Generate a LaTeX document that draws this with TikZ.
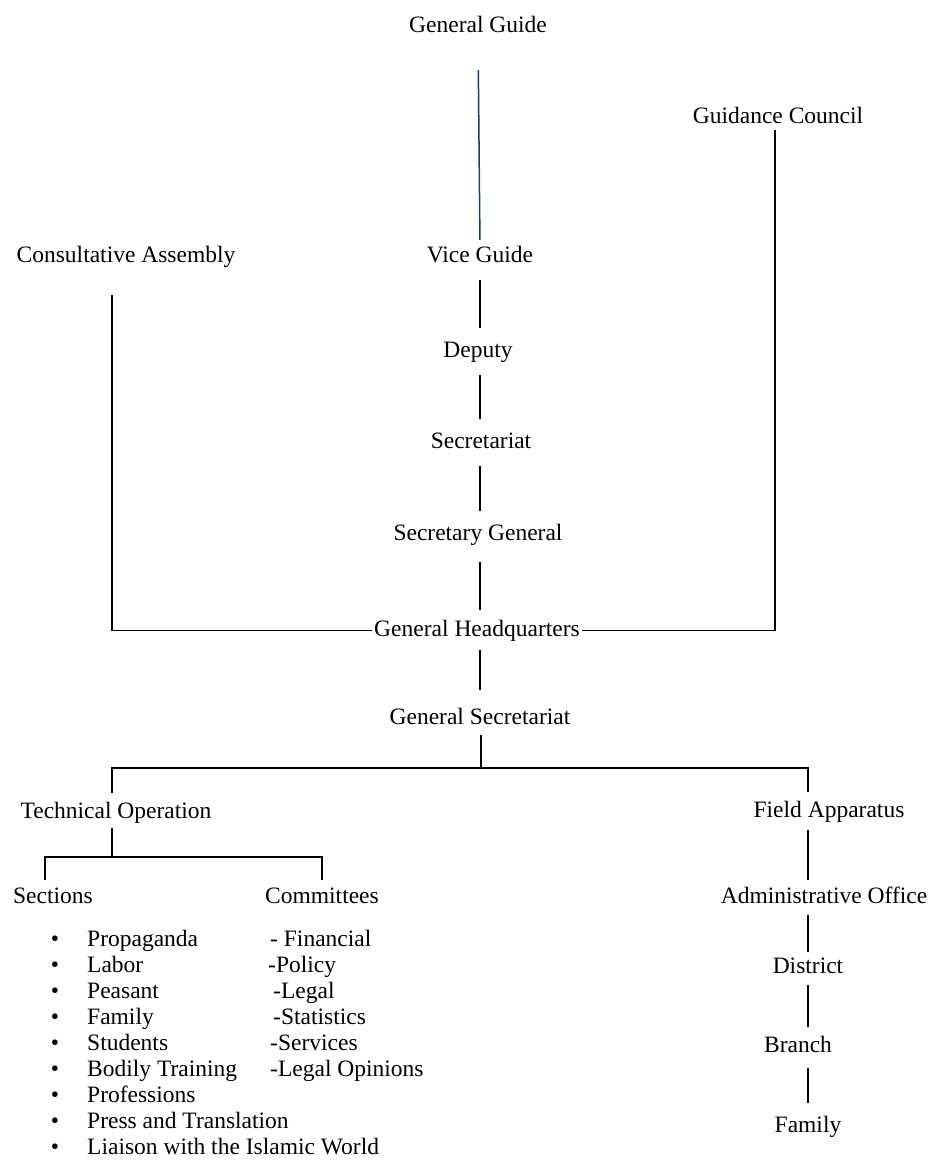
\documentclass[tikz,border=0pt]{standalone}
\usepackage{fontspec}
\setmainfont{Liberation Serif}
\definecolor{darkteal}{RGB}{25,60,95}

\begin{document}
\begin{tikzpicture}[x=1pt,y=-1pt,
    lbl/.style={inner sep=0pt,anchor=base,text height=16pt,text depth=5pt,
      font=\fontsize{23.5}{26}\selectfont},
    item/.style={lbl,anchor=base west},
    link/.style={line width=1.5pt,shorten <=13pt,shorten >=13pt}]
  \useasboundingbox (0,0) rectangle (930,1160);

  % top of the chart
  \node[lbl] (gg)   at (478,32)  {General Guide};
  \node[lbl] (gc)   at (778,123) {Guidance Council};
  \node[lbl] (ca)   at (126,262) {Consultative Assembly};
  \node[lbl] (vg)   at (480,262) {Vice Guide};
  \node[lbl] (dep)  at (478,357) {Deputy};
  \node[lbl] (sect) at (481,448) {Secretariat};
  \node[lbl] (sg)   at (478,540) {Secretary General};
  \node[lbl] (ghq)  at (477,636) {General Headquarters};
  \node[lbl] (gs)   at (480,724) {General Secretariat};

  % two branches
  \node[lbl] (tech) at (116,818) {Technical Operation};
  \node[lbl] (fa)   at (829,817) {Field Apparatus};
  \node[lbl] (sec)  at (53,903)  {Sections};
  \node[lbl] (com)  at (322,903) {Committees};
  \node[lbl] (adm)  at (824,903) {Administrative Office};
  \node[lbl] (dist) at (808,973) {District};
  \node[lbl] (br)   at (798,1052) {Branch};
  \node[lbl] (fam)  at (808,1132) {Family};

  \foreach \txt [count=\i] in {Propaganda,Labor,Peasant,Family,Students,
      Bodily Training,Professions,Press and Translation,
      Liaison with the Islamic World} {
    \node[lbl] (dot\i) at (55,{919.9+26.1*\i}) {\textbullet};
    \node[item] (sec\i) at (87,{919.9+26.1*\i}) {\txt};
  }
  \foreach \x/\txt [count=\i] in {270/- Financial,268/-Policy,273/-Legal,
      273/-Statistics,270/-Services,270/-Legal Opinions} {
    \node[item] (com\i) at (\x,{919.9+26.1*\i}) {\txt};
  }

  % connectors
  \draw[link,darkteal,shorten <=33pt,shorten >=6pt] (gg.south) -- (vg.north);
  \draw[link] (vg.south -| gs.south) -- (dep.north -| gs.south);
  \draw[link] (dep.south -| gs.south) -- (sect.north -| gs.south);
  \draw[link] (sect.south -| gs.south) -- (sg.north -| gs.south);
  \draw[link,shorten <=17pt,shorten >=10pt] (sg.south -| gs.south) -- (ghq.north -| gs.south);
  \draw[link,shorten <=9pt,shorten >=18pt] (ghq.south -| gs.south) -- (gs.north);

  \draw[link,shorten <=0pt,shorten >=2pt] (ca.south) ++(-14,28) |- (ghq.west);
  \draw[link,shorten <=0pt,shorten >=2pt] (gc.south) ++(-3,2) |- (ghq.east);

  \draw[link,shorten <=0pt,shorten >=0pt] (gs.south) ++(1,6) -- ++(0,33) coordinate (split);
  \draw[link,shorten <=0pt,shorten >=0pt] (split) -| ([shift={(-4,-9)}]tech.north);
  \draw[link,shorten <=0pt,shorten >=0pt] (split) -| ([yshift=9pt]fa.north -| dist.north);

  \draw[link,shorten <=0pt,shorten >=0pt] (tech.south) ++(-4,5) -- ++(0,29) coordinate (tsplit);
  \draw[link,shorten <=0pt,shorten >=0pt] (tsplit) -| ([shift={(-8,-7)}]sec.north);
  \draw[link,shorten <=0pt,shorten >=0pt] (tsplit) -| ([yshift=7pt]com.north);

  \draw[link,shorten <=8pt,shorten >=7pt] (fa.south -| dist.south) -- (adm.north -| dist.north);
  \draw[link,shorten <=7pt,shorten >=5pt] (adm.south -| dist.south) -- (dist.north);
  \draw[link,shorten <=7pt,shorten >=9pt] (dist.south) -- (br.north -| dist.north);
  \draw[link,shorten <=11pt,shorten >=13pt] (br.south -| dist.south) -- (fam.north);
\end{tikzpicture}
\end{document}
